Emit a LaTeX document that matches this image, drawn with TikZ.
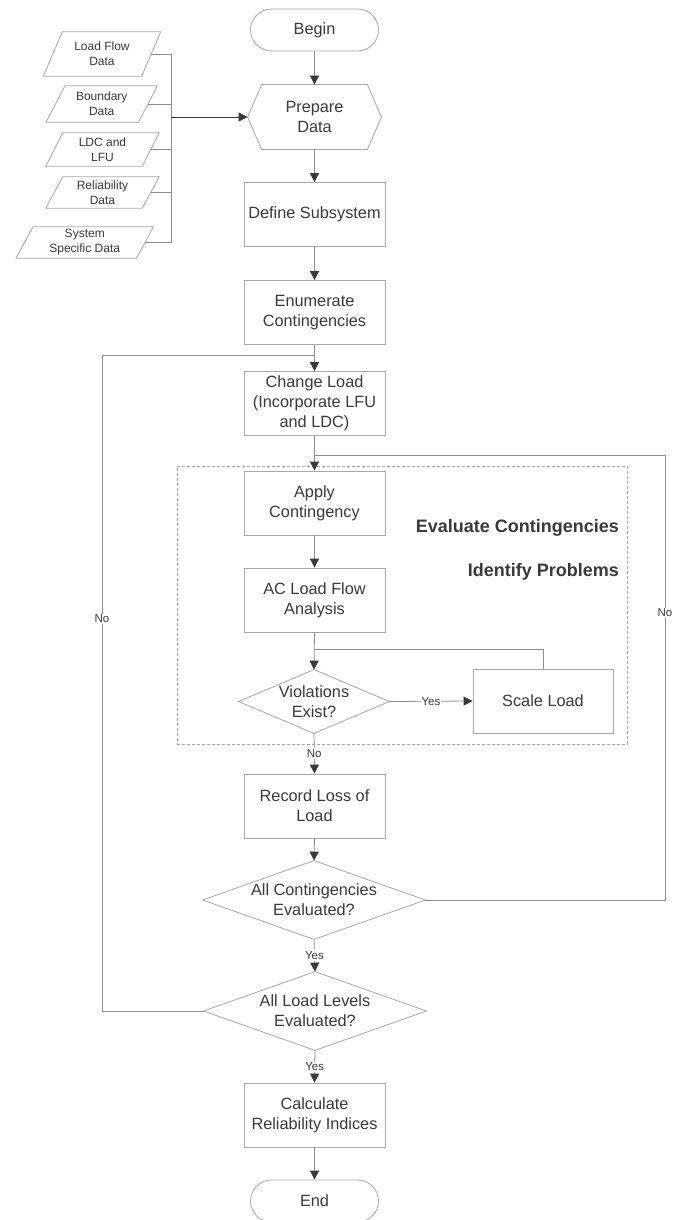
\documentclass[tikz,border=0pt]{standalone}
\usepackage{fontspec}
\setmainfont{Liberation Sans}
\usetikzlibrary{arrows.meta,calc}
\definecolor{textc}{HTML}{3A3A3A}
\definecolor{shapec}{HTML}{A8A8A8}
\definecolor{linec}{HTML}{8E8E8E}
\definecolor{tipc}{HTML}{3A3A3A}
\tikzset{
 box/.style={draw=shapec, line width=0.8pt, minimum width=141pt, minimum height=64pt, inner sep=0pt, align=center, text=textc, font=\fontsize{16.3}{20}\selectfont},
 term/.style={box, minimum width=128pt, minimum height=42pt, rounded corners=21pt},
 hexa/.style={box, draw=none, minimum width=133pt},
 decis/.style={box, draw=none, minimum width=222pt, minimum height=78pt},
 outline/.style={draw=shapec, line width=0.8pt},
 datab/.style={inner sep=0pt, align=center, text=textc, font=\fontsize{12}{15}\selectfont},
 conn/.style={draw=linec, line width=0.8pt},
 arr/.style={conn, -{Triangle[width=9pt,length=9pt,color=tipc]}},
 lbl/.style={fill=white, inner sep=1pt, text=textc, font=\fontsize{11.5}{13}\selectfont},
 grouptitle/.style={anchor=east, inner sep=0pt, text=textc, font=\fontsize{18}{20}\bfseries\selectfont},
}
\newcommand\databox[7]{%
 \node[datab, minimum width=#4pt, minimum height=#5pt] (#1) at (#2,#3) {#7};
 \draw[outline] ($(#1.north west)+(#6,0)$) -- ($(#1.north east)+(#6,0)$) -- ($(#1.south east)-(#6,0)$) -- ($(#1.south west)-(#6,0)$) -- cycle;}
\begin{document}
\begin{tikzpicture}[x=1pt,y=-1pt]
\useasboundingbox[fill=white] (0,0) rectangle (678,1220);

% group box
\node[draw=shapec, line width=0.7pt, dash pattern=on 3pt off 2pt, minimum width=450pt, minimum height=278pt, inner sep=0pt] (grp) at (402,605) {};
\node[grouptitle] (t1) at (619,528) {Evaluate Contingencies};
\node[grouptitle] (t2) at (619,572) {Identify Problems};

% main column
\node[term] (begin) at (314.5,30) {Begin};
\node[hexa] (prep) at (314.5,117) {Prepare\\Data};
\draw[outline] (prep.west) -- ($(prep.north west)+(14,0)$) -- ($(prep.north east)+(-14,0)$) -- (prep.east) -- ($(prep.south east)+(-14,0)$) -- ($(prep.south west)+(14,0)$) -- cycle;
\node[box] (define) at (314.5,214.5) {Define Subsystem};
\node[box] (enum) at (314.5,312.5) {Enumerate\\Contingencies};
\node[box] (change) at (314.5,403.5) {Change Load\\(Incorporate LFU\\and LDC)};
\node[box] (apply) at (314.5,503) {Apply\\Contingency};
\node[box] (ac) at (314.5,600) {AC Load Flow\\Analysis};
\node[decis, minimum width=150pt, minimum height=63pt] (viol) at (314,701.5) {Violations\\Exist?};
\draw[outline] (viol.north) -- (viol.east) -- (viol.south) -- (viol.west) -- cycle;
\node[box, minimum width=140pt] (scale) at (543,701) {Scale Load};
\node[box] (record) at (314.5,806) {Record Loss of\\Load};
\node[decis] (allc) at (314,900) {All Contingencies\\Evaluated?};
\draw[outline] (allc.north) -- (allc.east) -- (allc.south) -- (allc.west) -- cycle;
\node[decis] (alll) at (315,1011) {All Load Levels\\Evaluated?};
\draw[outline] (alll.north) -- (alll.east) -- (alll.south) -- (alll.west) -- cycle;
\node[box] (calc) at (314.5,1115) {Calculate\\Reliability Indices};
\node[term] (end) at (314.5,1201) {End};

% data inputs
\databox{d1}{102}{54}{98}{44}{9.5}{Load Flow\\Data}
\databox{d2}{101.75}{104}{92}{36}{9.5}{Boundary\\Data}
\databox{d3}{102.5}{149.5}{96}{33}{8.5}{LDC and\\LFU}
\databox{d4}{102.5}{192.5}{96}{31}{8.5}{Reliability\\Data}
\databox{d5}{84.75}{242.5}{120}{31}{8.5}{System\\Specific Data}

\coordinate (bx) at (171,117);
\foreach \d in {d1,d2,d3,d4,d5} \draw[conn] (\d.east) -- (\d.east -| bx);
\draw[conn] (d1.east -| bx) -- (d5.east -| bx);
\draw[arr, draw=tipc] (bx) -- (prep.west);

% junctions and loop rails
\coordinate (j1) at (314.5,355);
\coordinate (j2) at (314.5,455);
\coordinate (j3) at (314.5,649);
\coordinate (lx) at (102,0);
\coordinate (rx) at (665,0);

% main arrows
\draw[arr] (begin) -- (prep);
\draw[arr] (prep) -- (define);
\draw[arr] (define) -- (enum);
\draw[arr] (enum) -- (change);
\draw[arr] (change) -- (apply);
\draw[arr] (apply) -- (ac);
\draw[arr] (ac.south) -- (viol.north);
\draw[arr] (viol.east) -- node[lbl] {Yes} (scale.west);
\draw[conn] (scale.north) -- (scale.north |- j3) -- (j3);
\draw[arr] (viol.south) -- node[lbl] {No} (record.north);
\draw[arr] (record.south) -- (allc.north);
\draw[conn] (allc.east) -- (allc.east -| rx) -- node[lbl, pos=0.645] {No} (j2 -| rx) -- (j2);
\draw[arr] (allc.south) -- node[lbl] {Yes} (alll.north);
\draw[conn] (alll.west) -- (alll.west -| lx) -- node[lbl, pos=0.598] {No} (j1 -| lx) -- (j1);
\draw[arr] (alll.south) -- node[lbl] {Yes} (calc.north);
\draw[arr] (calc) -- (end);
\end{tikzpicture}
\end{document}
